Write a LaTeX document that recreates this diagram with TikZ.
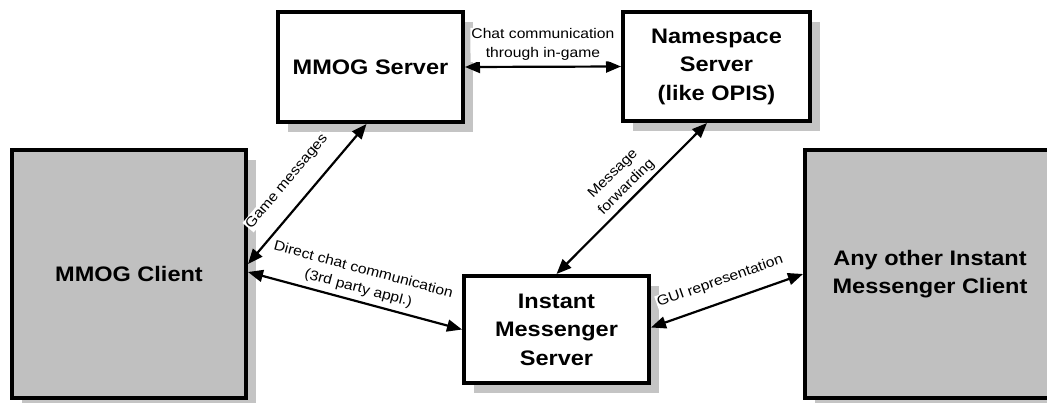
\documentclass[tikz,border=0pt]{standalone}
\usepackage{fontspec}
\setmainfont{Liberation Sans}[FakeStretch=1.12]
\usetikzlibrary{arrows.meta,shadows}
\definecolor{silver}{RGB}{192,192,192}
\definecolor{shadowgray}{RGB}{196,196,196}
\newcommand{\boxfont}{\fontsize{21}{28.5}\selectfont\bfseries}
\newcommand{\lblfont}{\fontsize{14}{19}\selectfont}
\begin{document}
\begin{tikzpicture}[x=1pt,y=1pt,
  box/.style={draw=black, line width=4pt, fill=white, align=center, font=\boxfont, inner sep=0pt,
    drop shadow={shadow xshift=10pt, shadow yshift=-10pt, fill=shadowgray, opacity=1}},
  client/.style={box, fill=silver},
  conn/.style={line width=2.2pt, {Triangle[length=15pt,width=12pt]}-{Triangle[length=15pt,width=12pt]}},
  lbl/.style={font=\lblfont, align=center, fill=white, inner sep=1pt, sloped}]
\useasboundingbox (0,0) rectangle (1047,-402);
\node[box, minimum width=185pt, minimum height=110pt] (mmogs) at (370.5,-67) {MMOG Server};
\node[box, minimum width=187pt, minimum height=109pt] (ns) at (716.5,-66.5) {Namespace\\Server\\(like OPIS)};
\node[client, minimum width=234pt, minimum height=248pt] (mmogc) at (129,-274) {MMOG Client};
\node[client, minimum width=250pt, minimum height=248pt] (other) at (930,-274) {Any other Instant\\Messenger Client};
\node[box, minimum width=185pt, minimum height=107pt] (ims) at (556.5,-329.5) {Instant\\Messenger\\Server};
\draw[conn] (mmogs.east) -- node[lbl, above=4pt]{Chat communication\\through in-game} (ns.west);
\draw[conn] ([yshift=10pt]mmogc.east) -- node[lbl, above=15pt, pos=0.48]{Game messages} ([xshift=-4pt]mmogs.south);
\draw[conn] ([yshift=2pt]mmogc.east) -- node[lbl, above=4pt]{Direct chat communication\\(3rd party appl.)} (ims.west);
\draw[conn] (ims.north) -- node[lbl, above=3pt, pos=0.52]{Message\\forwarding} ([xshift=-9.5pt]ns.south);
\draw[conn] ([yshift=2pt]ims.east) -- node[lbl, above=12pt]{GUI representation} (other.west);
\end{tikzpicture}
\end{document}
